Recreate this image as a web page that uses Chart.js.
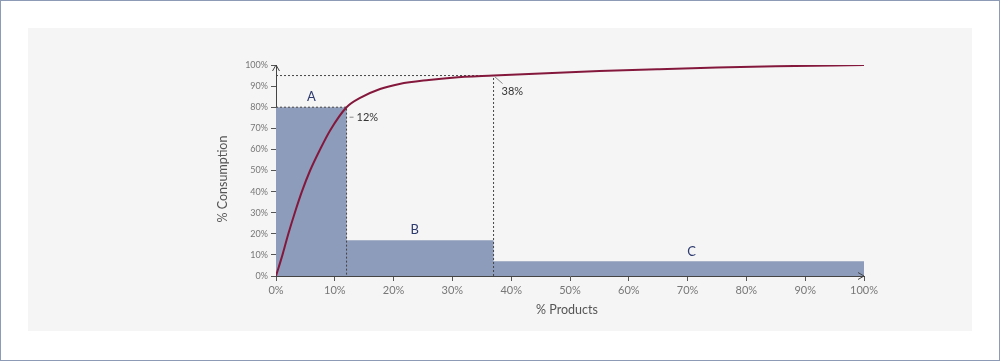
<!DOCTYPE html>
<html>
<head>
<meta charset="utf-8">
<script src="https://cdn.jsdelivr.net/npm/chart.js@4.4.1/dist/chart.umd.min.js"></script>
<style>
  html, body { margin: 0; padding: 0; background: #fff; }
  #wrap { width: 1000px; height: 361px; }
</style>
</head>
<body>
<div id="wrap"><canvas id="abcChart" width="1000" height="361"></canvas></div>
<script>
// ABC analysis: cumulative consumption vs. share of products
const curveX = [0, 1.1, 2.1, 3.2, 4.4, 5.8, 7.5, 9.2, 12, 14.3, 17.7, 21, 26, 30, 37, 45, 55, 65, 75, 85, 100];
const curveY = [0, 10, 20, 30, 40, 50, 60, 69, 80, 84.4, 88.6, 91, 92.9, 94, 95, 96, 97.1, 98, 98.8, 99.4, 100];

const zoneNames = ["A", "B", "C"];
const zoneEdges = [0, 12, 37, 100];
const zoneHeights = [80, 17, 7];
const zoneLabelPos = [[6, 85], [23.6, 21.8], [70.7, 11.4]];

const cutX = [12, 37];
const cutY = [80, 95];
const cutLabels = ["12%", "38%"];

const ticks = [0, 10, 20, 30, 40, 50, 60, 70, 80, 90, 100];

let ctx = document.getElementById("abcChart").getContext("2d");

// stepped outline of the three zones
let zonePoints = zoneEdges.map((x, i) => ({ x: x, y: zoneHeights[Math.min(i, zoneHeights.length - 1)] }));

let guides = cutX.map((x, i) => ({
  type: "line",
  data: [{ x: 0, y: cutY[i] }, { x: x, y: cutY[i] }, { x: x, y: 0 }],
  borderColor: "#444",
  borderWidth: 1,
  borderDash: [2, 2],
  pointRadius: 0,
  fill: false,
  tension: 0,
}));

const decorations = {
  id: "decorations",
  beforeDraw(chart) {
    const c = chart.ctx;
    c.save();
    c.fillStyle = "#fff";
    c.fillRect(0, 0, chart.width, chart.height);
    c.fillStyle = "#f5f5f5";
    c.fillRect(28, 28, 944, 303);
    c.strokeStyle = "#8e9bb6";
    c.lineWidth = 1;
    c.strokeRect(0.5, 0.5, chart.width - 1, chart.height - 1);
    c.restore();
  },
  afterDraw(chart) {
    const c = chart.ctx;
    const xs = chart.scales.x, ys = chart.scales.y;
    const area = chart.chartArea;
    c.save();

    // axis arrows
    c.strokeStyle = "#444";
    c.lineWidth = 1;
    c.beginPath();
    c.moveTo(area.right - 6, area.bottom - 3.5);
    c.lineTo(area.right, area.bottom);
    c.lineTo(area.right - 6, area.bottom + 3.5);
    c.moveTo(area.left - 3.5, area.top + 6);
    c.lineTo(area.left, area.top);
    c.lineTo(area.left + 3.5, area.top + 6);
    c.stroke();

    // zone letters
    c.fillStyle = "#2d3a6e";
    c.font = "13px Lato";
    c.textAlign = "center";
    c.textBaseline = "middle";
    zoneNames.forEach((n, i) => {
      c.fillText(n, xs.getPixelForValue(zoneLabelPos[i][0]), ys.getPixelForValue(zoneLabelPos[i][1]));
    });

    // cut-off labels with small leaders
    c.font = "11px Lato";
    c.textAlign = "left";
    c.fillStyle = "#333";
    c.strokeStyle = "#888";
    let px = xs.getPixelForValue(cutX[0]), py = ys.getPixelForValue(cutY[0]);
    c.beginPath();
    c.moveTo(px + 3, py + 10);
    c.lineTo(px + 7, py + 10);
    c.stroke();
    c.fillText(cutLabels[0], px + 10, py + 10);
    px = xs.getPixelForValue(cutX[1]);
    py = ys.getPixelForValue(cutY[1]);
    c.beginPath();
    c.moveTo(px + 1, py + 1);
    c.lineTo(px + 9, py + 8);
    c.stroke();
    c.fillText(cutLabels[1], px + 8, py + 16);

    // axis titles
    c.fillStyle = "#555";
    c.font = "12.5px Lato";
    c.textAlign = "center";
    c.fillText("% Products", xs.getPixelForValue(50) - 3, 310);
    c.translate(223, 179);
    c.rotate(-Math.PI / 2);
    c.fillText("% Consumption", 0, 0);
    c.restore();
  },
};

let abcChart = new Chart(ctx, {
  type: "scatter",
  data: {
    datasets: [
      {
        type: "line",
        data: curveX.map((x, i) => ({ x: x, y: curveY[i] })),
        borderColor: "#84183c",
        borderWidth: 2,
        pointRadius: 0,
        fill: false,
        cubicInterpolationMode: "monotone",
      },
      ...guides,
      {
        type: "line",
        data: zonePoints,
        stepped: "before",
        borderWidth: 0,
        borderColor: "rgba(0,0,0,0)",
        backgroundColor: "#8d9cbb",
        pointRadius: 0,
        fill: "origin",
      },
    ],
  },
  options: {
    responsive: false,
    animation: false,
    layout: {
      padding: { left: 210, right: 136, top: 65, bottom: 40 },
    },
    plugins: {
      legend: { display: false },
      tooltip: { enabled: false },
    },
    scales: {
      x: {
        type: "linear",
        min: 0,
        max: 100,
        afterFit: (s) => { s.height = 45; },
        afterBuildTicks: (s) => { s.ticks = ticks.map((v) => ({ value: v })); },
        ticks: {
          callback: (v) => v + "%",
          color: "#777",
          font: { family: "Lato", size: 11 },
          padding: 3,
          maxRotation: 0,
        },
        grid: { drawOnChartArea: false, drawTicks: true, tickLength: 5, color: "#555" },
        border: { color: "#444", width: 1 },
      },
      y: {
        type: "linear",
        min: 0,
        max: 100,
        afterFit: (s) => { s.width = 66; },
        afterBuildTicks: (s) => { s.ticks = ticks.map((v) => ({ value: v })); },
        ticks: {
          callback: (v) => v + "%",
          color: "#777",
          font: { family: "Lato", size: 9 },
          padding: 3,
        },
        grid: { drawOnChartArea: false, drawTicks: true, tickLength: 5, color: "#555" },
        border: { color: "#444", width: 1 },
      },
    },
  },
  plugins: [decorations],
});
</script>
</body>
</html>
